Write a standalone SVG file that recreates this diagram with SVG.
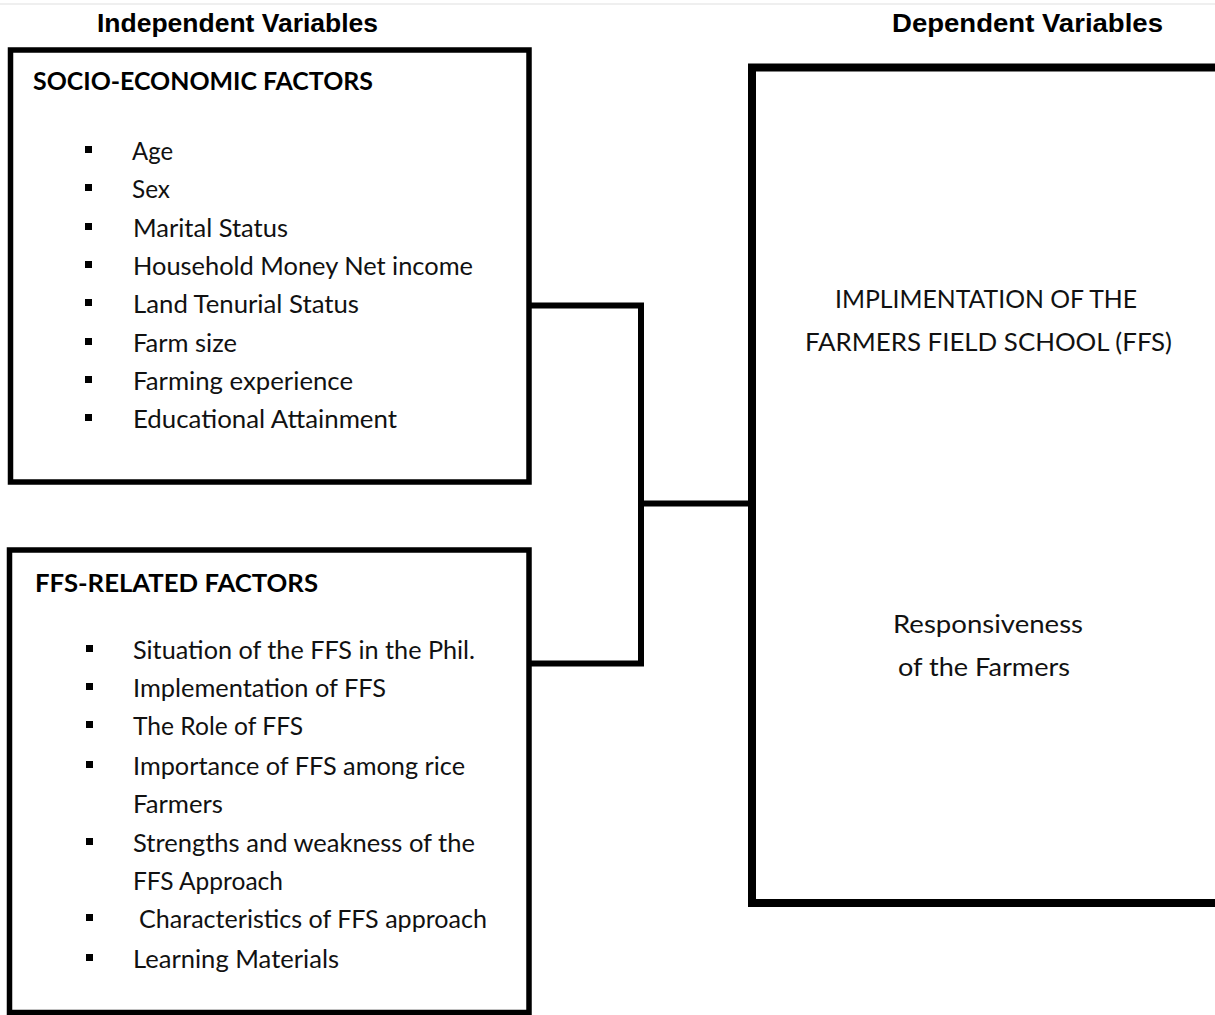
<svg xmlns="http://www.w3.org/2000/svg" width="1215" height="1015" viewBox="0 0 1215 1015">
  <style>
    .hdr { font-family: "Liberation Sans", Arial, sans-serif; font-weight: bold; font-size: 26px; fill: #000; }
    .ttl { font-family: Lato, "Liberation Sans", sans-serif; font-weight: bold; font-size: 25px; fill: #000; }
    .itm { font-family: Lato, "Liberation Sans", sans-serif; font-size: 25px; fill: #111; }
    .box { fill: none; stroke: #000; stroke-width: 5.5; }
    .big { fill: none; stroke: #000; stroke-width: 8; }
    .wire { fill: none; stroke: #000; stroke-width: 6; stroke-linejoin: miter; }
    .dot { fill: #000; }
  </style>
  <defs>
    <rect id="bullet" width="7" height="7"/>
  </defs>

  <rect x="0" y="0" width="1215" height="1015" fill="#fff"/>
  <line x1="0" y1="4" x2="1215" y2="4" stroke="#efefef" stroke-width="2"/>

  <!-- column headings -->
  <text class="hdr" x="97" y="32" textLength="281" lengthAdjust="spacingAndGlyphs">Independent Variables</text>
  <text class="hdr" x="892" y="32" textLength="271" lengthAdjust="spacingAndGlyphs">Dependent Variables</text>

  <!-- connectors -->
  <g id="connectors">
    <path class="wire" d="M529,305.5 H641 V663.5 H529"/>
    <path class="wire" d="M641,503.5 H752"/>
  </g>

  <!-- socio-economic factors -->
  <g id="socio-economic">
    <rect class="box" x="10.5" y="50" width="518.5" height="432"/>
    <text class="ttl" x="33" y="90" textLength="340" lengthAdjust="spacingAndGlyphs">SOCIO-ECONOMIC FACTORS</text>
    <g class="dot">
      <use href="#bullet" x="85" y="146"/>
      <use href="#bullet" x="85" y="184"/>
      <use href="#bullet" x="85" y="223"/>
      <use href="#bullet" x="85" y="261"/>
      <use href="#bullet" x="85" y="299"/>
      <use href="#bullet" x="85" y="338"/>
      <use href="#bullet" x="85" y="376"/>
      <use href="#bullet" x="85" y="414"/>
    </g>
    <text class="itm" x="132" y="160" textLength="41" lengthAdjust="spacingAndGlyphs">Age</text>
    <text class="itm" x="132" y="198" textLength="38" lengthAdjust="spacingAndGlyphs">Sex</text>
    <text class="itm" x="133" y="237" textLength="155" lengthAdjust="spacingAndGlyphs">Marital Status</text>
    <text class="itm" x="133" y="275" textLength="340" lengthAdjust="spacingAndGlyphs">Household Money Net income</text>
    <text class="itm" x="133" y="313" textLength="226" lengthAdjust="spacingAndGlyphs">Land Tenurial Status</text>
    <text class="itm" x="133" y="352" textLength="104" lengthAdjust="spacingAndGlyphs">Farm size</text>
    <text class="itm" x="133" y="390" textLength="220" lengthAdjust="spacingAndGlyphs">Farming experience</text>
    <text class="itm" x="133" y="428" textLength="264" lengthAdjust="spacingAndGlyphs">Educational Attainment</text>
  </g>

  <!-- FFS-related factors -->
  <g id="ffs-related">
    <rect class="box" x="9.5" y="550" width="519.5" height="462.5"/>
    <text class="ttl" x="35" y="592" textLength="283" lengthAdjust="spacingAndGlyphs">FFS-RELATED FACTORS</text>
    <g class="dot">
      <use href="#bullet" x="86" y="645"/>
      <use href="#bullet" x="86" y="683"/>
      <use href="#bullet" x="86" y="721"/>
      <use href="#bullet" x="86" y="761"/>
      <use href="#bullet" x="86" y="838"/>
      <use href="#bullet" x="86" y="914"/>
      <use href="#bullet" x="86" y="954"/>
    </g>
    <text class="itm" x="133" y="659" textLength="342" lengthAdjust="spacingAndGlyphs">Situation of the FFS in the Phil.</text>
    <text class="itm" x="133" y="697" textLength="253" lengthAdjust="spacingAndGlyphs">Implementation of FFS</text>
    <text class="itm" x="133" y="735" textLength="170" lengthAdjust="spacingAndGlyphs">The Role of FFS</text>
    <text class="itm" x="133" y="775" textLength="332" lengthAdjust="spacingAndGlyphs">Importance of FFS among rice</text>
    <text class="itm" x="133" y="813" textLength="90" lengthAdjust="spacingAndGlyphs">Farmers</text>
    <text class="itm" x="133" y="852" textLength="342" lengthAdjust="spacingAndGlyphs">Strengths and weakness of the</text>
    <text class="itm" x="133" y="890" textLength="150" lengthAdjust="spacingAndGlyphs">FFS Approach</text>
    <text class="itm" x="139" y="928" textLength="348" lengthAdjust="spacingAndGlyphs">Characteristics of FFS approach</text>
    <text class="itm" x="133" y="968" textLength="206" lengthAdjust="spacingAndGlyphs">Learning Materials</text>
  </g>

  <!-- dependent variable -->
  <g id="dependent">
    <rect class="big" x="752" y="67.5" width="480" height="835.5"/>
    <text class="itm" x="835" y="308" textLength="302" lengthAdjust="spacingAndGlyphs">IMPLIMENTATION OF THE</text>
    <text class="itm" x="805" y="351" textLength="367" lengthAdjust="spacingAndGlyphs">FARMERS FIELD SCHOOL (FFS)</text>
    <text class="itm" x="893" y="633" textLength="190" lengthAdjust="spacingAndGlyphs">Responsiveness</text>
    <text class="itm" x="898" y="676" textLength="172" lengthAdjust="spacingAndGlyphs">of the Farmers</text>
  </g>
</svg>
